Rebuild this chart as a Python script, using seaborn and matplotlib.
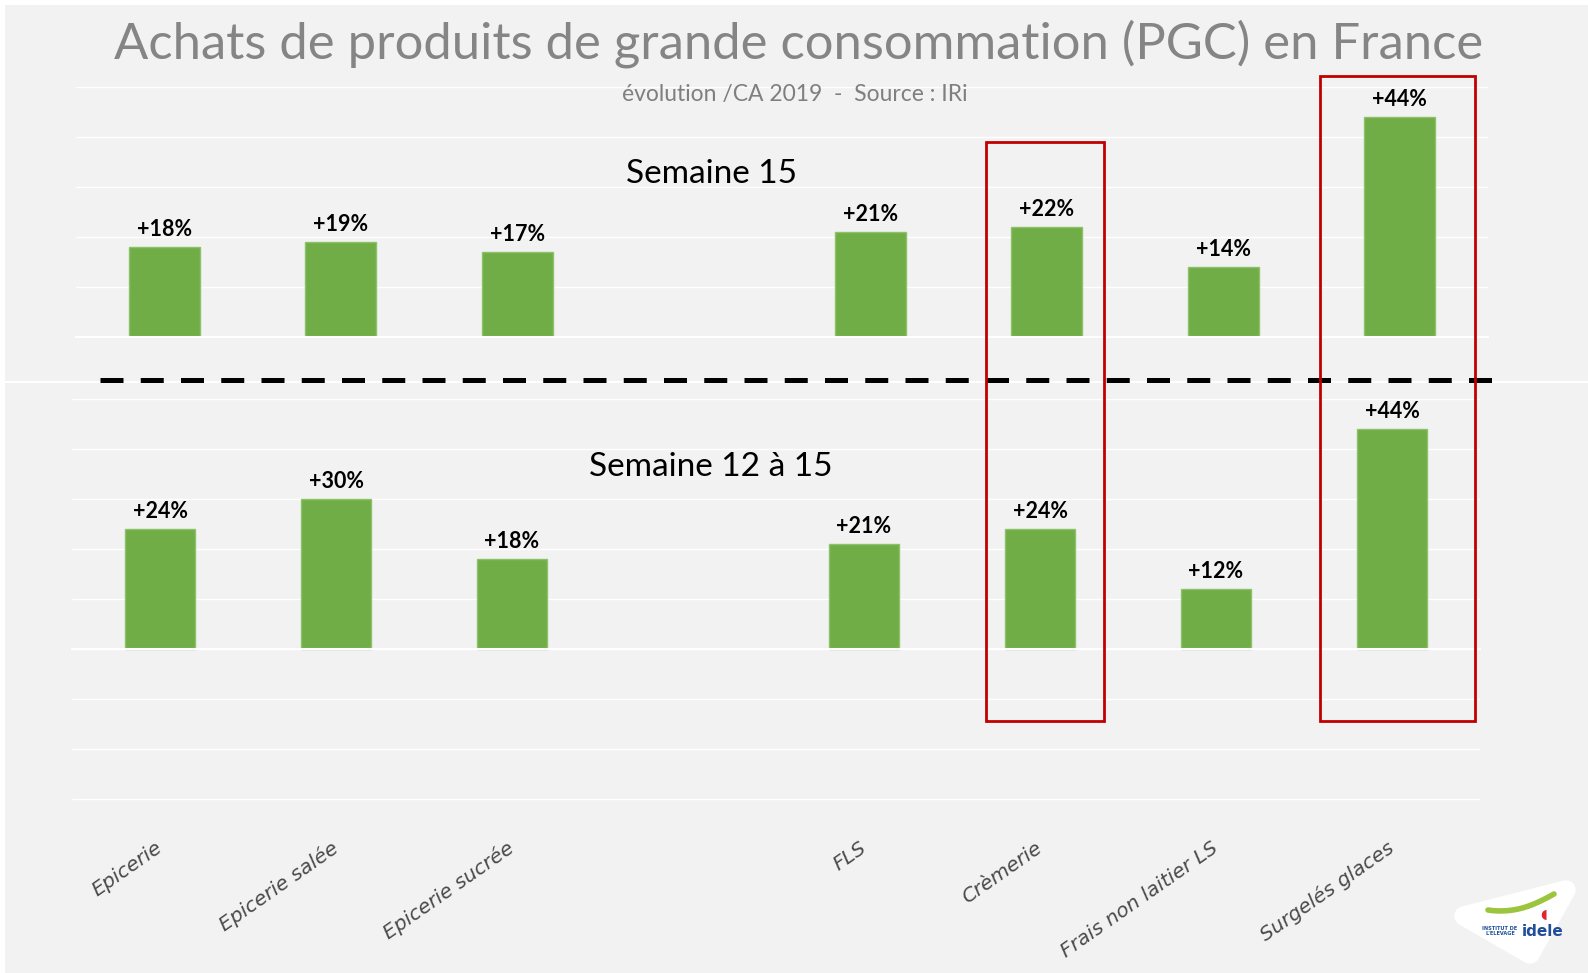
import numpy as np
import pandas as pd
import matplotlib
matplotlib.use("Agg")
import matplotlib.pyplot as plt
import matplotlib.transforms as mtransforms
from matplotlib.patches import Rectangle, Polygon
from matplotlib.lines import Line2D
import seaborn as sns

# ── Data ───────────────────────────────────────────────────────────────────────
PRODUITS = ["Epicerie", "Epicerie salée", "Epicerie sucrée", "FLS",
            "Crèmerie", "Frais non laitier LS", "Surgelés glaces"]
SEMAINE_15 = [18, 19, 17, 21, 22, 14, 44]        # évolution % / CA 2019
SEMAINE_12_15 = [24, 30, 18, 21, 24, 12, 44]
ORDER = PRODUITS[:3] + [" "] + PRODUITS[3:]      # empty slot after Epicerie sucrée
HIGHLIGHT = ["Crèmerie", "Surgelés glaces"]

TITLE = "Achats de produits de grande consommation (PGC) en France"
SUBTITLE = "évolution /CA 2019  -  Source : IRi"

GREEN = "#70AD47"
BG = "#F2F2F2"
W, H = 1588, 973

sns.set_style("white")
plt.rcParams["font.family"] = ["DejaVu Sans"]

fig = plt.figure(figsize=(W / 100, H / 100), dpi=100, facecolor="white")
fig.add_artist(Rectangle((5 / W, 0), 1, 1 - 5 / H, transform=fig.transFigure,
                         facecolor=BG, edgecolor="none", zorder=-10))


def px_axes(left, top, right, bottom):
    return fig.add_axes([left / W, 1 - bottom / H, (right - left) / W, (bottom - top) / H])


def draw_panel(ax, values, ylim):
    df = pd.DataFrame({"produit": PRODUITS, "evol": values})
    sns.barplot(data=df, x="produit", y="evol", order=ORDER, color=GREEN,
                saturation=1, width=0.4, errorbar=None, ax=ax,
                edgecolor="#8DC26A", linewidth=1)
    ax.set_facecolor("none")
    ax.set_ylim(*ylim)
    ax.set_yticks(np.arange(-30 if ylim[0] < 0 else 0, ylim[1] + 1, 10))
    ax.yaxis.grid(True, color="white", linewidth=1)
    ax.set_axisbelow(True)
    ax.set_xlabel("")
    ax.set_ylabel("")
    ax.tick_params(axis="y", left=False, labelleft=False)
    for s in ["top", "left", "right"]:
        ax.spines[s].set_visible(False)
    ax.spines["bottom"].set_position(("data", 0))
    ax.spines["bottom"].set_color("white")
    ax.spines["bottom"].set_linewidth(1.5)
    ax.set_xticks(np.arange(len(ORDER) + 1) - 0.5, minor=True)
    ax.tick_params(axis="x", which="minor", length=4, color="white", width=1.2)
    ax.tick_params(axis="x", which="major", length=0)
    ax.bar_label(ax.containers[0], fmt="+{:.0f}%", padding=5,
                 fontsize=15.5, fontweight="bold", family="Lato", color="black")


# ── Top panel: Semaine 15 ──────────────────────────────────────────────────────
ax_top = px_axes(76, 87, 1488, 337)
draw_panel(ax_top, SEMAINE_15, (0, 50))
ax_top.tick_params(axis="x", labelbottom=False)

# ── Bottom panel: Semaine 12 à 15 ──────────────────────────────────────────────
ax_bot = px_axes(72, 399, 1480, 802)
draw_panel(ax_bot, SEMAINE_12_15, (-30.6, 50))
ax_bot.tick_params(axis="x", which="major", pad=142)
for lbl in ax_bot.get_xticklabels():
    lbl.set_rotation(35)
    lbl.set_rotation_mode("anchor")
    lbl.set_ha("right")
    lbl.set_va("center")
    lbl.set_fontsize(14.5)
    lbl.set_style("italic")
    lbl.set_color("#4A4A4A")

# ── Titles & panel captions ────────────────────────────────────────────────────
fig.text(799 / W, 1 - 44 / H, TITLE, ha="center", va="center", fontsize=36.5,
         family="Lato", color="#858585")
fig.text(795 / W, 1 - 95 / H, SUBTITLE, ha="center", va="center", fontsize=16.5,
         family="Lato", color="#7F7F7F")
fig.text(711 / W, 1 - 174 / H, "Semaine 15", ha="center", va="center",
         fontsize=24, family="Lato", color="black")
fig.text(711 / W, 1 - 467 / H, "Semaine 12 à 15", ha="center", va="center",
         fontsize=24, family="Lato", color="black")

# ── Separator between the two panels ───────────────────────────────────────────
fig.add_artist(Line2D([5 / W, 1], [1 - 382 / H] * 2, transform=fig.transFigure,
                      color="white", linewidth=1.5))
fig.add_artist(Line2D([100 / W, 1493 / W], [1 - 380 / H] * 2, transform=fig.transFigure,
                      color="black", linewidth=3.6, linestyle=(0, (4.6, 3.45)),
                      dash_capstyle="butt"))

# ── Red highlight boxes ────────────────────────────────────────────────────────
blend = mtransforms.blended_transform_factory(ax_bot.transData, fig.transFigure)
for name, half, top in zip(HIGHLIGHT, [0.335, 0.44], [142, 76]):
    x = ORDER.index(name)
    fig.add_artist(Rectangle((x - half + 0.03, 1 - 721 / H), 2 * half, (721 - top) / H,
                             transform=blend, fill=False, edgecolor="#C00000",
                             linewidth=2, zorder=5))

# ── idele logo (approximation) ────────────────────────────────────────────────
pts = np.array([[1464, 916], [1566, 890], [1530, 954]])
fig.add_artist(Polygon(np.column_stack([pts[:, 0] / W, 1 - pts[:, 1] / H]),
                       closed=True, transform=fig.transFigure, facecolor="white",
                       edgecolor="white", linewidth=14, joinstyle="round"))
sw = np.linspace(0, 1, 30)
fig.add_artist(Line2D((1488 + 66 * sw) / W, 1 - (910 - 16 * sw ** 1.5 + 4 * np.sin(np.pi * sw)) / H,
                      transform=fig.transFigure, color="#9BC53D", linewidth=4,
                      solid_capstyle="round"))
fig.text(1522 / W, 1 - 931 / H, "idele", ha="left", va="center", fontsize=11,
         fontweight="bold", color="#1F4E9A")
fig.text(1500 / W, 1 - 931 / H, "INSTITUT DE\nL'ELEVAGE", ha="center", va="center",
         fontsize=3.6, fontweight="bold", color="#1F4E9A", linespacing=1.1)
fig.text(1544 / W, 1 - 915 / H, "\u25D6", ha="center", va="center", fontsize=9,
         color="#E0262D")

fig.savefig("out.png", dpi=100, facecolor=fig.get_facecolor())
